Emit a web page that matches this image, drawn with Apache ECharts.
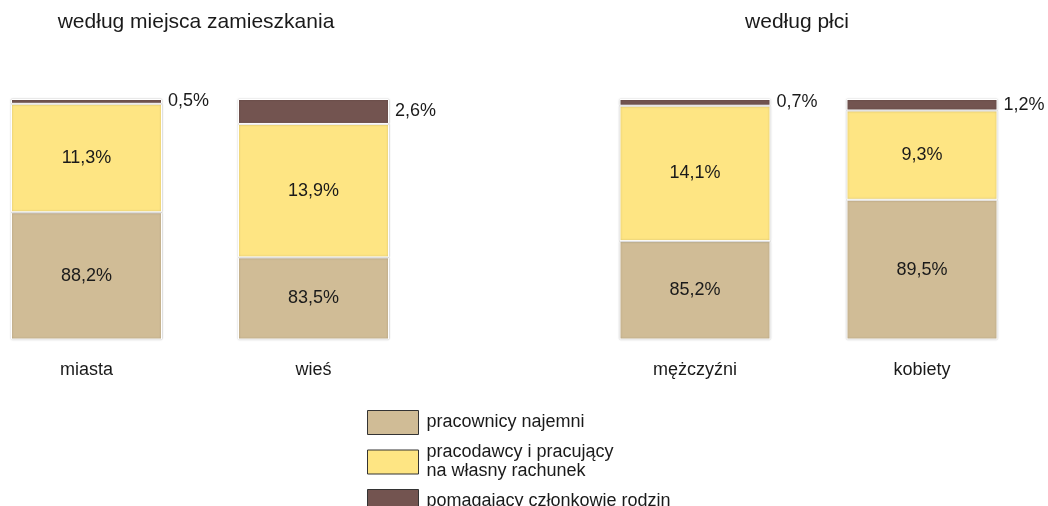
<!DOCTYPE html>
<html>
<head>
<meta charset="utf-8">
<script src="https://cdn.jsdelivr.net/npm/echarts@6/dist/echarts.min.js"></script>
<style>
  html, body { margin: 0; padding: 0; background: #fff; }
  #chart { width: 1048px; height: 506px; }
</style>
</head>
<body>
<div id="chart"></div>
<script>
const categoriesPlace = ["miasta", "wieś"];
const categoriesSex = ["mężczyźni", "kobiety"];
const seriesNames = ["pracownicy najemni", "pracodawcy i pracujący\nna własny rachunek", "pomagający członkowie rodzin"];
const employeesPlace = [88.2, 83.5];
const selfEmployedPlace = [11.3, 13.9];
const familyPlace = [0.5, 2.6];
const employeesSex = [85.2, 89.5];
const selfEmployedSex = [14.1, 9.3];
const familySex = [0.7, 1.2];

const colors = ["#d0bc96", "#fee583", "#735450"];
const font = "Liberation Sans, Arial, sans-serif";

function pct(p) {
  return p.value.toFixed(1).replace(".", ",") + "%";
}

function makeSeries(axisIndex, values) {
  return values.map(function (data, i) {
    const top = i === 2;
    return {
      name: seriesNames[i],
      type: "bar",
      stack: "s" + axisIndex,
      xAxisIndex: axisIndex,
      yAxisIndex: axisIndex,
      barWidth: 151,
      clip: true,
      data: data,
      itemStyle: {
        color: colors[i],
        borderColor: "#ffffff",
        borderWidth: 1,
        shadowBlur: 2,
        shadowColor: "rgba(0,0,0,0.25)",
      },
      label: {
        show: true,
        position: top ? "right" : "inside",
        distance: 6,
        formatter: pct,
        color: "#1a1a1a",
        fontSize: 18,
        fontFamily: font,
      },
    };
  });
}

const chart = echarts.init(document.getElementById("chart"));

const xAxisBase = {
  type: "category",
  axisLine: { show: false },
  axisTick: { show: false },
  axisLabel: {
    margin: 22,
    fontSize: 18,
    color: "#1a1a1a",
    fontFamily: font,
  },
};
const yAxisBase = {
  type: "value",
  min: 75,
  max: 100,
  show: false,
  splitLine: { show: false },
};

option = {
  animation: false,
  textStyle: { fontFamily: font },
  title: [
    {
      text: "według miejsca zamieszkania",
      left: 196,
      top: 12,
      padding: 0,
      textAlign: "center",
      textStyle: { fontSize: 21, fontWeight: "normal", color: "#1a1a1a", fontFamily: font },
    },
    {
      text: "według płci",
      left: 797,
      top: 12,
      padding: 0,
      textAlign: "center",
      textStyle: { fontSize: 21, fontWeight: "normal", color: "#1a1a1a", fontFamily: font },
    },
  ],
  legend: {
    orient: "vertical",
    left: 367,
    top: 410,
    height: 130,
    padding: 0,
    icon: "rect",
    itemWidth: 51,
    itemHeight: 24,
    itemGap: 8,
    data: seriesNames,
    itemStyle: { borderColor: "#333333", borderWidth: 1, shadowBlur: 0 },
    textStyle: {
      fontSize: 18,
      lineHeight: 19,
      color: "#1a1a1a",
      fontFamily: font,
      padding: [0, 0, 0, 3],
    },
  },
  grid: [
    { left: -27, top: 99, width: 454, bottom: 167, outerBoundsMode: "none" },
    { left: 581.5, top: 99, width: 454, bottom: 167, outerBoundsMode: "none" },
  ],
  xAxis: [
    Object.assign({ gridIndex: 0, data: categoriesPlace }, xAxisBase),
    Object.assign({ gridIndex: 1, data: categoriesSex }, xAxisBase),
  ],
  yAxis: [
    Object.assign({ gridIndex: 0 }, yAxisBase),
    Object.assign({ gridIndex: 1 }, yAxisBase),
  ],
  series: makeSeries(0, [employeesPlace, selfEmployedPlace, familyPlace]).concat(
    makeSeries(1, [employeesSex, selfEmployedSex, familySex])
  ),
};

chart.setOption(option);
</script>
</body>
</html>
